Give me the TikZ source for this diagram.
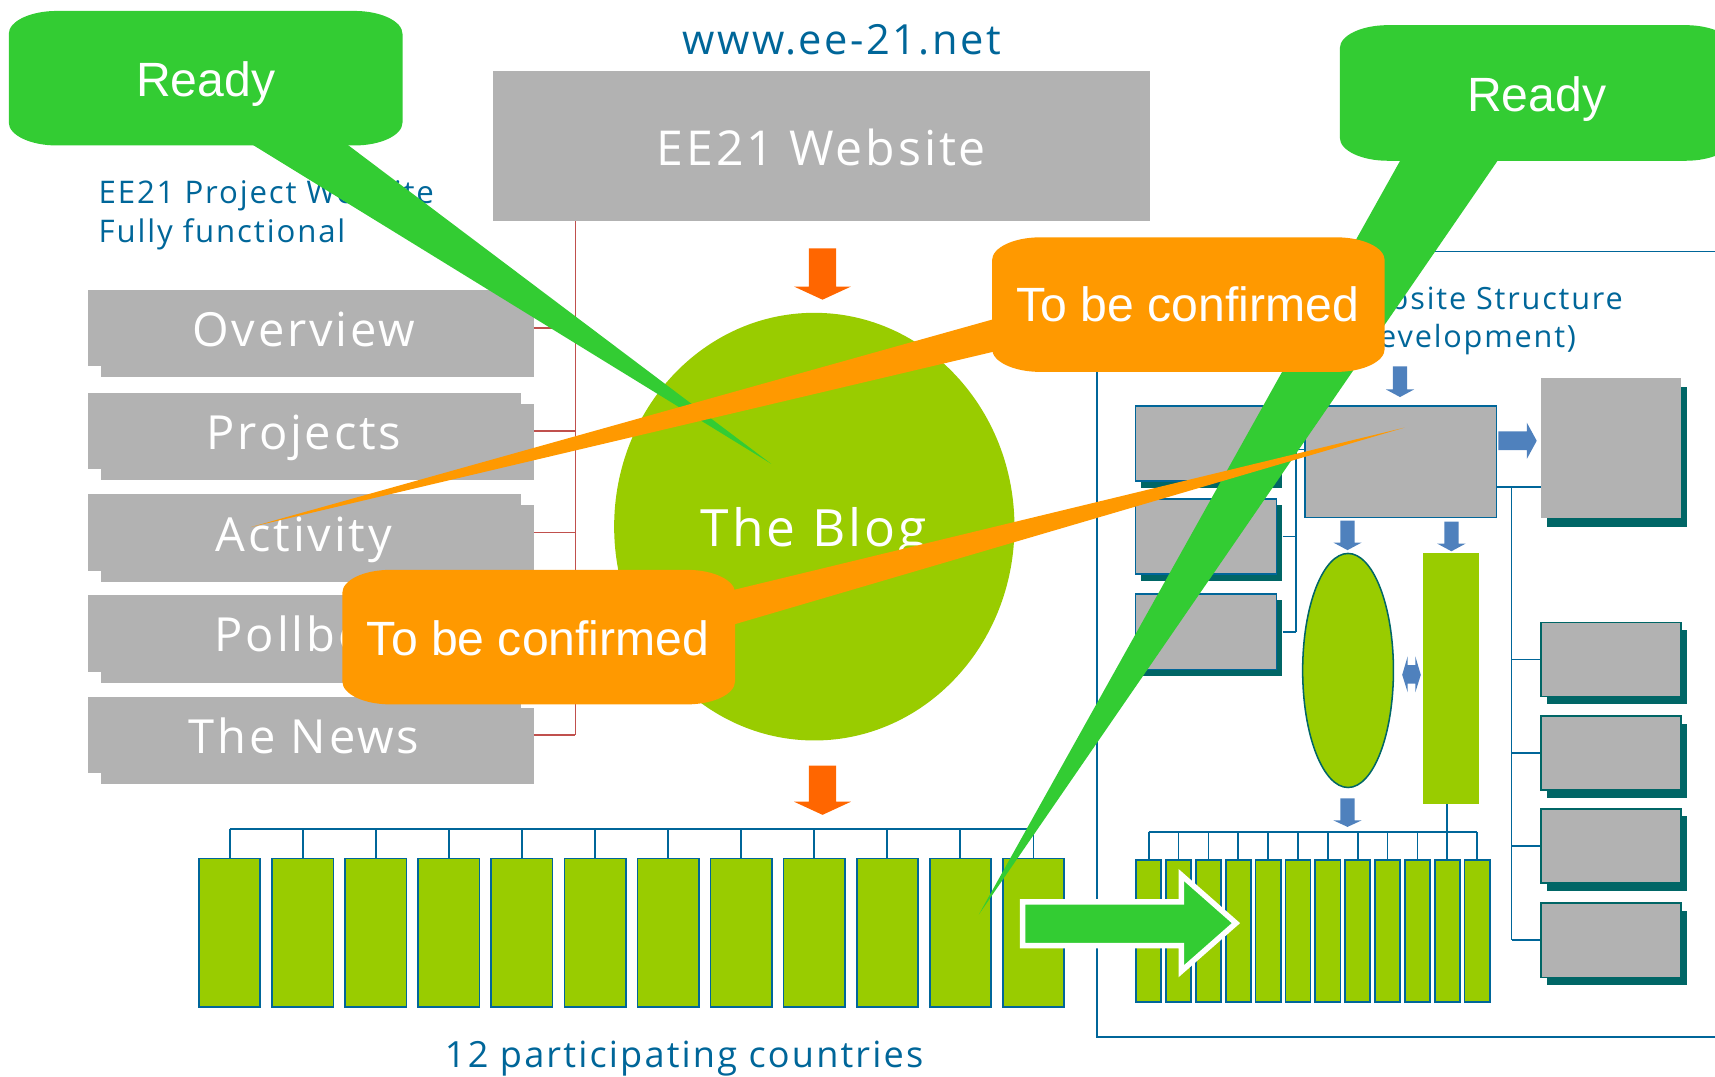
\documentclass[tikz,border=0pt]{standalone}
\usepackage{fontspec}
\usetikzlibrary{shapes.geometric,shadows}

\newfontfamily\sitefont[LetterSpace=6]{Open Sans}
\newfontfamily\callfont{Liberation Sans}

\definecolor{boxgray}{HTML}{B2B2B2}
\definecolor{callgreen}{HTML}{33CC33}
\definecolor{callorange}{HTML}{FF9900}
\definecolor{lime}{HTML}{99CC00}
\definecolor{arroworange}{HTML}{FF6600}
\definecolor{siteblue}{HTML}{006699}
\definecolor{arrowblue}{HTML}{4F81BD}
\definecolor{shadowteal}{HTML}{006666}
\definecolor{linered}{HTML}{C0504D}

% block arrow pointing down: colour, x, y top, y head, half shaft, half head, y tip
\newcommand{\arrdown}[7]{\fill[#1] (#2-#5,#3) -- (#2+#5,#3) -- (#2+#5,#4) -- (#2+#6,#4) -- (#2,#7) -- (#2-#6,#4) -- (#2-#5,#4) -- cycle;}
% block arrow pointing right: colour, y, x tail, x head, half shaft, half head, x tip
\newcommand{\arrright}[7]{\fill[#1] (#3,#2-#5) -- (#4,#2-#5) -- (#4,#2-#6) -- (#7,#2) -- (#4,#2+#6) -- (#4,#2+#5) -- (#3,#2+#5) -- cycle;}
% callout box with oval corners: colour, x1, y1, x2, y2
\newcommand{\callbox}[5]{\fill[#1] (#2+44,#3) -- (#4-44,#3)
  arc[start angle=-90,end angle=0,x radius=44,y radius=21] -- (#4,#5-21)
  arc[start angle=0,end angle=90,x radius=44,y radius=21] -- (#2+44,#5)
  arc[start angle=90,end angle=180,x radius=44,y radius=21] -- (#2,#3+21)
  arc[start angle=180,end angle=270,x radius=44,y radius=21] -- cycle;}

\tikzset{
  sitetext/.style={text=siteblue, inner sep=0pt},
  calltext/.style={text=white, inner sep=0pt, font=\callfont\fontsize{44}{48}\selectfont},
  webbox/.style={fill=boxgray, text=white, inner sep=0pt, minimum width=600pt,
    minimum height=137pt, text height=86pt, text depth=51pt,
    font=\sitefont\fontsize{44}{48}\selectfont},
  menubox/.style={fill=boxgray, text=white, inner sep=0pt, minimum width=396pt,
    minimum height=70pt, text height=52pt, text depth=18pt,
    font=\sitefont\fontsize{43}{46}\selectfont,
    general shadow={fill=boxgray, shadow xshift=12pt, shadow yshift=-10pt}},
  redline/.style={draw=linered, line width=1.4pt},
  blueline/.style={draw=siteblue, line width=1.6pt},
  bar/.style={fill=lime, draw=siteblue, line width=1.6pt, inner sep=0pt},
  sbox/.style={fill=boxgray, draw=siteblue, line width=1.4pt, inner sep=0pt,
    general shadow={fill=shadowteal, shadow xshift=5pt, shadow yshift=-6pt}},
  tbox/.style={fill=boxgray, draw=shadowteal, line width=1.4pt, inner sep=0pt,
    minimum width=128pt, minimum height=68pt,
    general shadow={fill=shadowteal, shadow xshift=5pt, shadow yshift=-7pt}}
}

\begin{document}
\begin{tikzpicture}[x=1pt,y=-1pt]
\useasboundingbox (0,0) rectangle (1568,984);
\clip (0,0) rectangle (1568,984);

% Website and its pages
\node[sitetext, anchor=base, font=\sitefont\fontsize{38}{42}\selectfont] (url) at (769.5,50) {www.ee-21.net};
\node[webbox] (web) at (751,133.5) {EE21 Website};
\node[sitetext, anchor=base west, font=\sitefont\fontsize{28.5}{32}\selectfont] (note1) at (90,186.5) {EE21 Project Website};
\node[sitetext, anchor=base west, font=\sitefont\fontsize{28.5}{32}\selectfont] (note2) at (90,222) {Fully functional};

\foreach \nm/\txt/\ytop in {ov/Overview/265, pr/Projects/359, ac/Activity/452, po/Pollbox/544, nw/The News/637}
  \node[menubox] (\nm) at (278,\ytop+35) {\txt};

\coordinate (menubus) at (526,0);
\draw[redline] (menubus |- web.south) -- (menubus |- nw.east);
\foreach \nm in {ov,pr,ac,po,nw}
  \draw[redline] ([xshift=12pt]\nm.east) -- (menubus |- \nm.east);

% The Blog
\arrdown{arroworange}{752}{227}{262}{12.5}{26}{274}
\node[ellipse, fill=lime, minimum width=366pt, minimum height=391pt, inner sep=0pt] (blog) at (744.5,481.5) {};
\node[text=white, inner sep=0pt, anchor=base, font=\sitefont\fontsize{47}{50}\selectfont] (blogtxt) at (744,500) {The Blog};
\arrdown{arroworange}{752}{700}{733}{12.5}{26}{745}

% 12 countries
\foreach \i in {1,...,12}
  \node[bar, minimum width=56pt, minimum height=136pt] (c\i) at ({210+(\i-1)*66.8},853) {};
\coordinate (ccomb) at (0,758);
\draw[blueline] (c1.north |- ccomb) -- (c12.north |- ccomb);
\foreach \i in {1,...,12}
  \draw[blueline] (c\i.north) -- (c\i.north |- ccomb);
\node[sitetext, anchor=base, font=\sitefont\fontsize{33}{36}\selectfont] (caption) at (625.5,976) {12 participating countries};

% Website structure
\draw[blueline] (1003,230) rectangle (1600,948);
\node[sitetext, anchor=base west, font=\sitefont\fontsize{28}{32}\selectfont] (struct1) at (1226,283) {Website Structure};
\node[sitetext, anchor=base west, font=\sitefont\fontsize{28}{32}\selectfont] (struct2) at (1232,318) {(development)};

\foreach \i/\y in {1/405.5, 2/490.5, 3/577.5}
  \node[sbox, minimum width=129pt, minimum height=69pt] (lb\i) at (1102.5,\y) {};
\node[fill=boxgray, draw=siteblue, line width=1.4pt, inner sep=0pt, minimum width=175pt, minimum height=102pt] (cbox) at (1280.5,422) {};
\node[fill=boxgray, inner sep=0pt, minimum width=128pt, minimum height=128pt,
  general shadow={fill=shadowteal, shadow xshift=5pt, shadow yshift=-8pt}] (big) at (1473,410) {};
\foreach \i/\y in {1/603, 2/688.5, 3/773.5, 4/859.5}
  \node[tbox] (rb\i) at (1473,\y) {};

\coordinate (lbus) at (1185,411);
\draw[blueline] (lb1.east |- lbus) -- (cbox.west |- lbus);
\draw[blueline] (lbus) -- (lbus |- lb3.east);
\draw[blueline] ([xshift=5pt]lb2.east) -- (lbus |- lb2.east);
\draw[blueline] ([xshift=5pt]lb3.east) -- (lbus |- lb3.east);

\coordinate (rbus) at (1382,445);
\draw[blueline] (cbox.east |- rbus) -- (big.west |- rbus);
\draw[blueline] (rbus) -- (rbus |- rb4.west);
\foreach \i in {1,...,4}
  \draw[blueline] (rbus |- rb\i.west) -- (rb\i.west);

\node[ellipse, fill=lime, draw=shadowteal, line width=1.4pt, minimum width=83pt, minimum height=214pt, inner sep=0pt] (ell) at (1232.5,613) {};
\node[fill=lime, inner sep=0pt, minimum width=51pt, minimum height=229pt] (grect) at (1326.5,620.5) {};

\arrdown{arrowblue}{1280}{335}{356}{6.5}{13}{363}
\arrright{arrowblue}{403}{1370}{1396}{8.5}{16.5}{1405}
\arrdown{arrowblue}{1232}{476}{496}{6.5}{13}{503}
\arrdown{arrowblue}{1327}{477}{497}{6.5}{13}{504}
\arrdown{arrowblue}{1232}{730}{750}{6.5}{13}{756}
\fill[arrowblue] (1282,617) -- (1287,600) -- (1287,608) -- (1294,608) -- (1294,600) -- (1299,617)
  -- (1294,633) -- (1294,625) -- (1287,625) -- (1287,633) -- cycle;

\foreach \i in {1,...,12}
  \node[bar, minimum width=23pt, minimum height=130pt] (r\i) at ({1050.2+(\i-1)*27.3},851) {};
\coordinate (rcomb) at (0,761);
\draw[blueline] (r1.north |- rcomb) -- (r12.north |- rcomb);
\foreach \i in {1,...,12}
  \draw[blueline] (r\i.north) -- (r\i.north |- rcomb);
\draw[blueline] (r11.north |- rcomb) -- (r11.north |- grect.south);

% countries feed the structure
\draw[white, line width=5pt, fill=callgreen] (935,824.5) -- (1080,824.5) -- (1080,800) -- (1130,844)
  -- (1080,888) -- (1080,864.5) -- (935,864.5) -- cycle;

% Ready callouts
\coordinate (tipL) at (705,424);
\coordinate (tipR) at (895,836);
\callbox{callgreen}{8}{10}{368}{133}
\fill[callgreen] (219,125) -- (308,125) -- (tipL) -- cycle;
\node[calltext, anchor=base] (readyL) at (188,88.5) {Ready};
\callbox{callgreen}{1225}{23}{1585}{147}
\fill[callgreen] (1284,140) -- (1374,140) -- (tipR) -- cycle;
\node[calltext, anchor=base] (readyR) at (1405,102) {Ready};

% To be confirmed callouts
\coordinate (tipT) at (229,482);
\coordinate (tipB) at (1284,391);
\callbox{callorange}{907}{217}{1266}{340}
\fill[callorange] (915,290) -- (915,320) -- (tipT) -- cycle;
\node[calltext, anchor=base] (tbcT) at (1086,294) {To be confirmed};
\callbox{callorange}{313}{521}{672}{644}
\fill[callorange] (664,541) -- (664,573) -- (tipB) -- cycle;
\node[calltext, anchor=base] (tbcB) at (492,599) {To be confirmed};

\end{tikzpicture}
\end{document}
